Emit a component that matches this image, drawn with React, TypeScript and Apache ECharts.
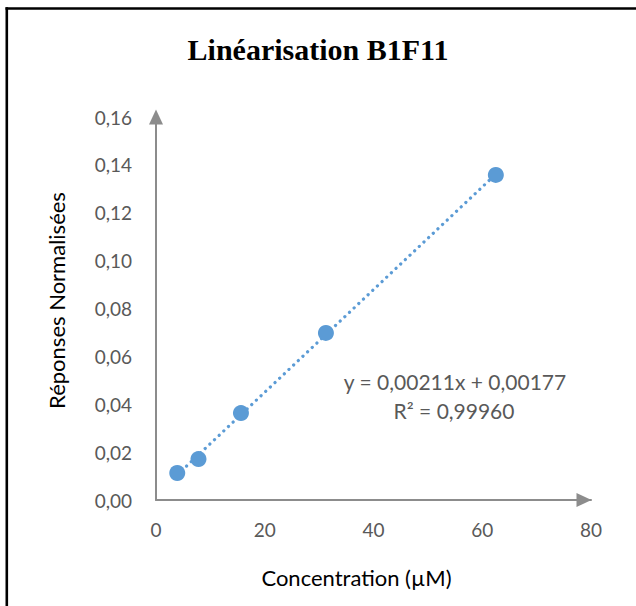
import React, { useEffect, useRef } from "react";
import * as echarts from "echarts";

const titleText = "Linéarisation B1F11";
const xAxisName = "Concentration (µM)";
const yAxisName = "Réponses Normalisées";
const concentrations = [3.90625, 7.8125, 15.625, 31.25, 62.5];
const responses = [0.0113, 0.0171, 0.0363, 0.0698, 0.1358];
const equationLines = ["y = 0,00211x + 0,00177", "R² = 0,99960"];

function fitLine(xs: number[], ys: number[]) {
  const n = xs.length;
  const mx = xs.reduce((a, b) => a + b, 0) / n;
  const my = ys.reduce((a, b) => a + b, 0) / n;
  let sxy = 0;
  let sxx = 0;
  for (let i = 0; i < n; i++) {
    sxy += (xs[i] - mx) * (ys[i] - my);
    sxx += (xs[i] - mx) * (xs[i] - mx);
  }
  const slope = sxy / sxx;
  const intercept = my - slope * mx;
  return { slope, intercept };
}

export default function App() {
  const ref = useRef<HTMLDivElement>(null);
  useEffect(() => {
    if (!ref.current) return;
    const chart = echarts.init(ref.current, undefined, { renderer: "svg" });
    const { slope, intercept } = fitLine(concentrations, responses);
    const x0 = concentrations[0];
    const x1 = concentrations[concentrations.length - 1];
    const trend = [
      [x0, slope * x0 + intercept],
      [x1, slope * x1 + intercept],
    ];
    const sans = "Lato, 'Open Sans', sans-serif";
    chart.setOption({
      animation: false,
      backgroundColor: "#ffffff",
      title: {
        text: titleText,
        left: "center",
        top: 29,
        textStyle: {
          fontFamily: "'Liberation Serif', 'Times New Roman', serif",
          fontWeight: "bold",
          fontSize: 30,
          color: "#000000",
        },
      },
      grid: { left: 156, right: 45, top: 117, bottom: 106 },
      xAxis: {
        type: "value",
        min: 0,
        max: 80,
        interval: 20,
        name: xAxisName,
        nameLocation: "middle",
        nameGap: 66,
        nameTextStyle: {
          fontFamily: sans,
          fontSize: 22,
          color: "#000000",
          padding: [0, 34, 0, 0],
        },
        axisLine: {
          lineStyle: { color: "#8c8c8c", width: 2 },
          symbol: ["none", "triangle"],
          symbolSize: [14, 15],
          symbolOffset: [0, -7],
        },
        axisTick: { show: false },
        splitLine: { show: false },
        axisLabel: {
          margin: 20,
          fontFamily: sans,
          fontSize: 19,
          color: "#595959",
        },
      },
      yAxis: {
        type: "value",
        min: 0,
        max: 0.16,
        interval: 0.02,
        name: yAxisName,
        nameLocation: "middle",
        nameGap: 89,
        nameTextStyle: {
          fontFamily: sans,
          fontSize: 22,
          color: "#000000",
          padding: [0, 0, 0, 16],
        },
        axisLine: {
          show: true,
          lineStyle: { color: "#8c8c8c", width: 2 },
          symbol: ["none", "triangle"],
          symbolSize: [14, 15],
        },
        axisTick: { show: false },
        splitLine: { show: false },
        axisLabel: {
          margin: 24,
          fontFamily: sans,
          fontSize: 19,
          color: "#595959",
          formatter: (v: number) => v.toFixed(2).replace(".", ","),
        },
      },
      series: [
        {
          type: "line",
          data: trend,
          showSymbol: false,
          symbol: "none",
          z: 1,
          lineStyle: {
            color: "#5B9BD5",
            width: 3.2,
            type: [0.1, 6.3],
            cap: "round",
          },
        },
        {
          type: "scatter",
          data: concentrations.map((c, i) => [c, responses[i]]),
          symbolSize: 16,
          z: 2,
          itemStyle: { color: "#5B9BD5", opacity: 1 },
        },
      ],
      graphic: [
        {
          type: "line",
          shape: { x1: 5.5, y1: 8.5, x2: 636, y2: 8.5 },
          style: { stroke: "#000000", lineWidth: 2.6 },
        },
        {
          type: "line",
          shape: { x1: 6.8, y1: 7.2, x2: 6.8, y2: 606 },
          style: { stroke: "#000000", lineWidth: 2.6 },
        },
        {
          type: "text",
          x: 455,
          y: 381,
          style: {
            text: equationLines[0],
            fontFamily: sans,
            fontSize: 21,
            fill: "#595959",
            textAlign: "center",
            textVerticalAlign: "middle",
          },
        },
        {
          type: "text",
          x: 454,
          y: 410,
          style: {
            text: equationLines[1],
            fontFamily: sans,
            fontSize: 21,
            fill: "#595959",
            textAlign: "center",
            textVerticalAlign: "middle",
          },
        },
      ],
    });
    return () => chart.dispose();
  }, []);
  return (
    <div
      ref={ref}
      style={{ position: "absolute", left: 0, top: 0, width: 636, height: 606 }}
    />
  );
}
